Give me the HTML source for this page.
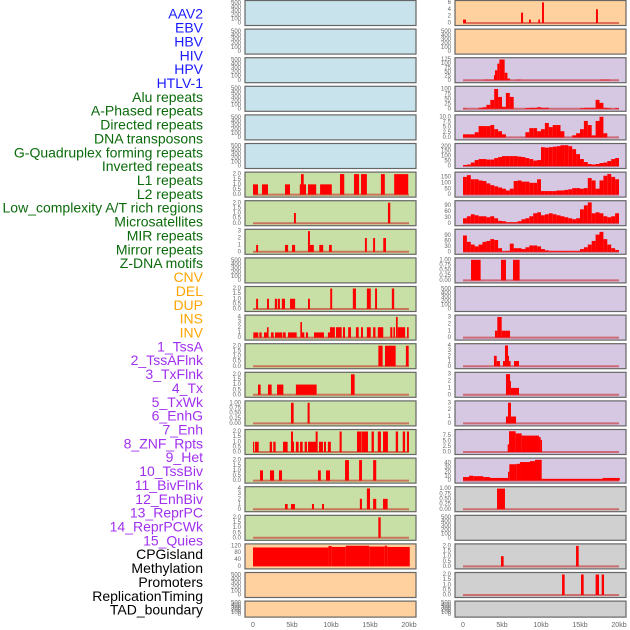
<!DOCTYPE html>
<html><head><meta charset="utf-8"><style>
html,body{margin:0;padding:0;background:#fff;width:630px;height:630px;overflow:hidden}
svg{display:block;font-family:"Liberation Sans",sans-serif}
</style></head><body>
<svg id="chart" width="630" height="630" viewBox="0 0 630 630"></svg>
<script>
const trackLabels=["AAV2","EBV","HBV","HIV","HPV","HTLV-1","Alu repeats","A-Phased repeats","Directed repeats","DNA transposons","G-Quadruplex forming repeats","Inverted repeats","L1 repeats","L2 repeats","Low_complexity A/T rich regions","Microsatellites","MIR repeats","Mirror repeats","Z-DNA motifs","CNV","DEL","DUP","INS","INV","1_TssA","2_TssAFlnk","3_TxFlnk","4_Tx","5_TxWk","6_EnhG","7_Enh","8_ZNF_Rpts","9_Het","10_TssBiv","11_BivFlnk","12_EnhBiv","13_ReprPC","14_ReprPCWk","15_Quies","CPGisland","Methylation","Promoters","ReplicationTiming","TAD_boundary"];
const labelGroups=[6,13,5,15,5];
const xTickLabels=["0","5kb","10kb","15kb","20kb"];
const xTickValues=[0,5,10,15,20];
const emptyTicks=[0,100,200,300,400,500];
// left column segments [startKb,endKb,value]
const L6=[[0,0.64,1],[1.15,1.92,1],[4.1,4.74,1],[6,6.8,1],[6.15,6.5,2],[7.05,8.1,1],[8.6,10.1,1],[11.15,11.7,2],[12.95,13.6,2],[13.85,14.6,2],[16.4,16.9,2],[18.1,19.9,2]];
const L7=[[5.25,5.5,1],[17.3,17.6,2]];
const L8=[[0.4,0.65,1],[4.1,4.5,1],[5,5.4,1],[7.05,7.3,3],[7.3,7.8,1],[8.5,9,1],[9.75,10.1,1],[14.35,14.6,2],[15.4,15.65,2],[16.7,17.05,2]];
const L10=[[0.4,0.65,1],[1.8,2.05,1],[2.8,3.1,1],[3.2,3.45,1],[3.7,4.1,1],[4.75,5.4,1],[7.05,7.3,1],[9.9,10.15,2],[12.8,13.2,2],[14.6,15.1,2],[15.65,15.9,2],[17.8,18.1,2]];
const L11=[[0.04,0.68,1],[0.81,1.11,1],[1.41,1.97,1],[1.79,2,2],[2.31,2.65,1],[2.82,3.76,1],[3.85,4.19,1],[4.49,5.6,1],[6.07,6.28,3],[6.28,6.58,1],[6.79,7.05,1],[7.82,9.1,1],[9.6,9.9,1],[9.87,10.5,2],[10.64,11.37,2],[11.54,11.8,2],[12.2,12.56,2],[13.2,13.55,2],[13.85,14.1,2],[14.6,15.1,2],[15.4,15.7,2],[16,16.7,2],[17.6,17.86,2],[18,18.2,2],[18.33,18.55,4],[18.55,19.5,2],[19.75,19.96,2]];
const L12=[[16.07,16.62,2],[16.92,18.29,2],[19.6,19.96,2]];
const L13=[[0.64,0.98,1],[1.92,2.39,1],[3.08,3.89,1],[5.5,6.54,1],[6.54,8.16,1],[12.56,13.03,2]];
const L14=[[4.87,5.21,1],[7,7.26,1]];
const L15=[[0,0.15,1],[0.26,0.73,1],[2.14,2.44,1],[2.6,2.9,1],[3.85,4.44,1],[4.87,5.13,2],[5.13,5.26,1],[5.5,5.85,1],[6.03,6.37,1],[6.62,6.92,1],[7.05,8.08,1],[8.03,8.29,2],[8.46,8.97,1],[9.1,9.36,1],[9.6,9.98,1],[11.1,11.37,2],[13.33,13.93,2],[13.97,14.74,2],[15.2,15.5,2],[16,16.4,2],[16.67,17.3,2],[18.3,18.6,2],[19.2,19.5,2],[19.74,20,2]];
const L16=[[0.9,1.28,1],[2.18,2.7,1],[3.33,3.72,1],[8.33,8.7,1],[9.36,9.87,1],[11.8,12.3,2],[13.6,13.97,2],[15.4,15.8,2]];
const L17=[[4.1,4.44,1],[4.87,5.38,1],[7.56,7.82,1],[8.85,9.1,1],[13.7,13.97,2],[14.6,15,4],[15.4,15.8,2],[16.67,17.26,2]];
const L18=[[16.07,16.37,2]];
const L19=[[0,9.67,110],[9.67,10.1,118],[10.1,11.9,113],[11.9,14.9,120],[14.9,16.9,115],[16.9,17.2,120],[17.2,20.1,113]];
// right column
const R0=[[0,0.38,1],[7.44,7.7,3],[8.46,8.7,1],[9.66,9.87,1],[10.13,10.38,6],[17.05,17.3,4]];
const R2=[[2.6,3.97,3],[3.97,4.23,30],[4.1,4.4,60],[4.4,4.66,100],[4.66,5.34,125],[5.34,5.7,45],[5.7,6.03,10],[6.9,7.44,3],[17.56,18.25,3],[18.3,18.85,3]];
// 0.5kb bins
const R3=[2,0,0,0,5,8,20,45,100,60,10,80,60,0,0,0,4,5,5,8,5,5,0,0,0,0,0,0,0,0,3,5,5,5,45,30,5,3,0,3];
const R4=[1.5,1.5,1.5,2.5,5.5,5.5,5.5,6,4,3,1.5,0,0,0,0,0,2.5,4.5,4.5,3,4,7,5,6,6,3,0,0,1,2,4,8,6,1,8,10,2,0,0,0];
const R5=[10,15,35,60,70,70,65,65,80,90,100,100,100,100,95,90,80,70,55,60,190,185,190,195,200,210,210,200,170,120,70,40,20,15,20,30,35,50,70,80];
const R6=[150,165,130,130,120,115,95,80,70,60,50,35,50,115,120,110,110,100,100,130,30,30,30,30,35,35,40,45,55,55,50,55,140,120,50,120,160,175,150,130];
const R7=[25,35,45,40,35,35,30,35,25,12,10,5,5,5,10,20,25,35,50,55,40,45,50,45,40,35,30,25,20,25,70,90,105,50,55,50,35,30,35,50];
const R8=[90,55,40,30,40,55,60,70,65,20,3,5,45,20,20,15,25,35,35,30,15,8,5,5,5,5,5,5,5,5,15,25,40,60,95,110,70,40,20,10];
const R9=[[1.03,2.26,1],[4.87,5.51,1],[6.41,7.26,1]];
const R11=[[4.1,4.4,1],[4.4,4.96,3],[4.96,6.03,1]];
const R12=[[3.97,4.32,2],[4.32,4.74,1],[5.13,5.38,1],[5.38,5.77,4],[5.77,5.9,2],[5.9,6.1,1],[6.54,7.18,1]];
const R13=[[5.51,6.03,3],[6.03,6.15,2],[6.15,7.18,1]];
const R14=[[5.51,5.77,1],[5.77,6.15,3],[6.15,6.8,1]];
const R15=[[5.73,5.9,3.5],[5.9,6.75,9.5],[6.75,7.52,8.5],[7.52,9.74,7.5],[9.74,9.96,6.8],[9.96,10.13,5.5]];
const R16=[[0,0.77,8],[0.77,1.32,11],[1.32,2.6,10],[2.6,3.46,8],[3.46,5.77,6],[5.77,5.94,20],[5.94,6.88,37],[6.88,7.31,38],[7.31,8.59,42],[8.59,9.23,44],[9.23,10.09,47],[10.09,17.9,4],[17.9,20.1,6]];
const R17=[[4.36,5.38,1]];
const R19=[[4.87,5.21,1],[14.49,14.83,2]];
const R20=[[12.7,13.03,2],[15.13,15.47,2],[17,17.44,2],[17.78,18.08,2]];

const T2=[0,0.5,1,1.5,2],T3=[0,1,2,3],T4=[0,1,2,3,4],TQ=[0,0.25,0.5,0.75,1];
function bins(a){return a.map((v,i)=>[i*0.5,i*0.5+0.5,v]);}
const leftRows=[null,null,null,null,null,null,
 {d:L6,t:T2,m:2.05,f:1},{d:L7,t:T2,m:2.05,f:1},{d:L8,t:T3,m:3.05,f:0},null,{d:L10,t:T2,m:2.05,f:1},{d:L11,t:T4,m:4.05,f:0},
 {d:L12,t:T2,m:2.05,f:1},{d:L13,t:T2,m:2.05,f:1},{d:L14,t:TQ,m:1.02,f:2},{d:L15,t:T2,m:2.05,f:1},{d:L16,t:T2,m:2.05,f:1},{d:L17,t:T4,m:4.05,f:0},{d:L18,t:T2,m:2.05,f:1},
 {d:L19,t:[0,40,80,120],m:122,f:0,nob:1},null,null];
const rightRows=[{d:R0,t:[0,2,4,6],m:6.1,f:0},null,{d:R2,t:[0,25,50,75,100,125],m:127,f:0},{d:bins(R3),t:[0,25,50,75,100],m:106,f:0},
 {d:bins(R4),t:[0,2.5,5,7.5,10],m:10.2,f:1},{d:bins(R5),t:[0,50,100,150,200],m:212,f:0},{d:bins(R6),t:[0,50,100,150],m:178,f:0},
 {d:bins(R7),t:[0,30,60,90],m:106,f:0},{d:bins(R8),t:[0,30,60,90],m:116,f:0},{d:R9,t:TQ,m:1.02,f:2},null,
 {d:R11,t:T3,m:3.05,f:0},{d:R12,t:T4,m:4.05,f:0},{d:R13,t:T3,m:3.05,f:0},{d:R14,t:T3,m:3.05,f:0},{d:R15,t:[0,2.5,5,7.5],m:9.6,f:1},
 {d:R16,t:[0,10,20,30,40],m:47.5,f:0},{d:R17,t:TQ,m:1.02,f:2},null,{d:R19,t:T2,m:2.05,f:1},{d:R20,t:T2,m:2.05,f:1},null];

const NS="http://www.w3.org/2000/svg";
const svg=document.getElementById('chart');
function el(tag,attrs,parent){const e=document.createElementNS(NS,tag);for(const k in attrs)e.setAttribute(k,attrs[k]);(parent||svg).appendChild(e);return e;}
// labels
const groupColors=["#1a1aff","#0b6b0b","#ffa500","#a030f0","#000000"];
let li=0;
labelGroups.forEach((n,g)=>{for(let k=0;k<n;k++){const t=el('text',{x:203,y:15+13.86*li,'text-anchor':'end','dominant-baseline':'middle','font-size':'14',fill:groupColors[g]});


t.textContent=trackLabels[li];li++;}});
function rowTop(i){return 0.5+28.6*i;}
function rowH(i){return i===21?16:25;}
function leftColor(i){return i<6?"#c8e3eb":(i<19?"#c8e0a6":"#ffd19f");}
function rightColor(i){return i<2?"#ffd19f":(i<17?"#d6c7e2":"#d0d0d0");}
function drawCol(rows,px,x0,colorFn,side){
 for(let i=0;i<22;i++){
  const top=rowTop(i),h=rowH(i);
  const g=el('g',{});
  
  
  el('rect',{x:px,y:top,width:171,height:h,fill:colorFn(i),stroke:"#666",'stroke-width':1.2},g);
  const r=rows[i];
  const y0=top+h-2.5,y1=top+1.5;
  const ticks=r?r.t:emptyTicks, m=r?r.m:520, f=r?r.f:0;
  const ys=v=>y0-(v/m)*(y0-y1);
  const xs=kb=>x0+kb*7.8;
  ticks.forEach(tv=>{const t=el('text',{x:px-4,y:ys(tv),'text-anchor':'end','dominant-baseline':'middle','font-size':'6',fill:"#666"},g);
   
   
   t.textContent=tv.toFixed(f);});
  if(!r)continue;
  if(!r.nob){const b=el('line',{x1:xs(0),x2:xs(20),y1:y0,y2:y0,stroke:"rgba(200,30,30,0.55)",'stroke-width':2},g);
   
   }
  r.d.forEach(s=>{if(s[2]<=0)return;const b=el('rect',{x:xs(s[0]),y:ys(s[2]),width:Math.max(0.8,xs(s[1])-xs(s[0])),height:y0-ys(s[2]),fill:"#ff0000"},g);
   
   });
 }
 xTickValues.forEach((v,k)=>{const t=el('text',{x:x0+v*7.8,y:627,'text-anchor':'middle','font-size':'7',fill:"#666"});
  
  
  t.textContent=xTickLabels[k];});
}
drawCol(leftRows,245,253,leftColor,'left');
drawCol(rightRows,455,463,rightColor,'right');
</script>
</body></html>
